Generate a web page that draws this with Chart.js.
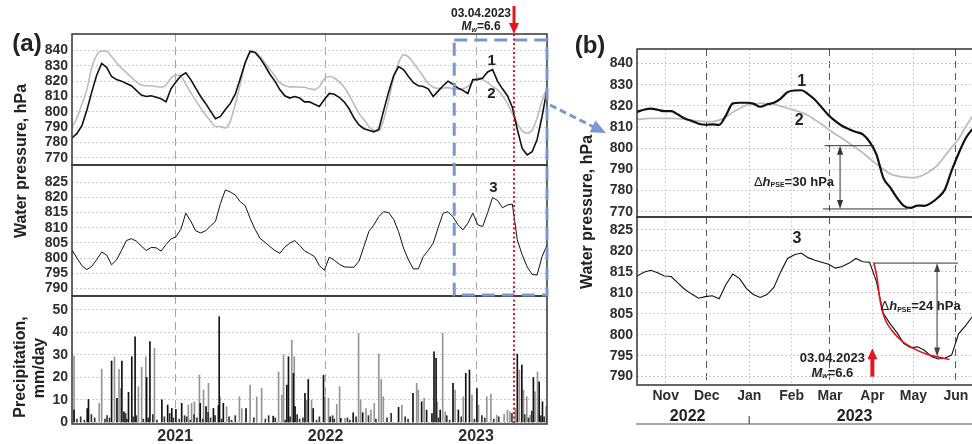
<!DOCTYPE html>
<html>
<head>
<meta charset="utf-8">
<script src="https://cdn.jsdelivr.net/npm/chart.js@4.4.1/dist/chart.umd.min.js"></script>
<style>
  html, body { margin: 0; padding: 0; background: #fff; }
  #wrap { position: relative; width: 972px; height: 444px; overflow: hidden; }
  #wrap canvas { position: absolute; }
</style>
</head>
<body>
<div id="wrap">
  <canvas id="a1"></canvas>
  <canvas id="a2"></canvas>
  <canvas id="a3"></canvas>
  <canvas id="b1"></canvas>
  <canvas id="b2"></canvas>
  <canvas id="overlay" width="972" height="444" style="left:0;top:0"></canvas>
</div>
<script>
// x values are days counted from 2020-01-01

// ---- panel (a): sampled every 12 days from day 116 ----
const A_START = 116;
const A_STEP = 12;
const SERIES1_A = [783, 786, 791, 801, 813, 824, 831.5, 829, 823, 821,
  820, 818.5, 817, 814, 811, 810, 810.5, 809.5, 808.5, 806.5,
  815, 819.5, 823.5, 825.5, 821, 815.5, 810, 805.5, 800.5, 795.5,
  797, 801.5, 805.5, 811.5, 821.5, 832, 839.5, 838.7, 835, 830,
  824.5, 820, 814.5, 810.5, 809, 810, 809, 806.5, 806.5, 805,
  803.5, 808, 812, 811.5, 809.5, 806.5, 802, 796, 791.5, 789,
  788, 787, 788.5, 801, 813, 823.5, 829.5, 827.5, 823, 819,
  817, 816.5, 815, 810, 813.5, 817, 820, 818, 815.5, 814,
  812, 821, 821, 822, 826, 827.5, 820, 815, 810.5, 803,
  788.5, 776, 772, 774, 782, 797, 814.5];
const SERIES2_A = [790, 796, 805, 814.5, 829, 837, 839.7, 839.4, 836, 832,
  828.5, 825.5, 822.5, 819.5, 817.5, 817, 817, 816.5, 816, 817.5,
  822, 824, 823.3, 818, 812.5, 807.5, 802.5, 798, 794, 790.5,
  790.5, 789.5, 794, 805, 818, 832, 838.5, 839, 836, 832,
  827.5, 823.5, 819, 817, 816.3, 816.3, 816, 816, 815, 814.5,
  816.5, 821.5, 823, 822, 819.5, 816, 811, 805, 799, 795,
  790.5, 788, 787.5, 795, 807.5, 822, 832, 837.3, 835.8, 831.8,
  827.5, 823, 818.5, 816, 815.3, 815.5, 815.8, 815, 814.7, 815,
  816.5, 819.5, 822.3, 821, 819, 816.5, 814.3, 810.5, 805.5, 799,
  792.5, 787.5, 786.2, 788, 796, 807, 816];
const SERIES3_A = [802.7, 800, 797.5, 796.2, 797.3, 799.5, 802, 801, 797.8, 799.4,
  802.5, 805.8, 806.4, 805.6, 804, 802.5, 803.5, 803.4, 802.3, 804.5,
  806.3, 807, 809.5, 814.8, 812.2, 809, 808.3, 809, 810.6, 812.1,
  818, 822.5, 821.8, 820.8, 818.6, 817.3, 813.1, 809.5, 806.5, 805.2,
  803.8, 802.5, 801.6, 803.6, 804.9, 805.8, 804.2, 802.4, 801.5, 800.5,
  797.5, 796, 800.3, 799.3, 798, 797.1, 797, 797, 799, 803.8,
  808.8, 810.9, 813.7, 815.3, 815, 812.8, 808.7, 803.3, 799.4, 796.4,
  796.5, 800.5, 802.6, 804.9, 810, 814.8, 815.3, 813.6, 811, 809.3,
  811.5, 814.8, 811, 810.4, 815, 820, 819, 816.6, 817.5, 817.8,
  806, 801, 797.1, 794.6, 794.4, 800.5, 804.3];

// precipitation, mm/day
const PRECIP_BLACK_DAY = [121, 153, 156, 212, 225, 237, 242, 253, 261, 269,
  297, 305, 334, 348, 358, 368, 382, 427, 441, 459,
  471, 473, 483, 538, 604, 637, 641, 653, 657, 681,
  689, 701, 726, 742, 768, 798, 821, 908, 943, 964,
  976, 989, 994, 999, 1009, 1040, 1053, 1071, 1080, 1098,
  1196, 1207, 1235, 1249, 1257];
const PRECIP_BLACK_MM = [5.5, 6.2, 10.2, 27.3, 10.7, 27.3, 4.7, 13.4, 29.2, 38.1,
  20, 35.9, 10, 7.7, 6.2, 5.8, 8.5, 8.5, 7, 6.2,
  7.4, 47, 8.5, 6.2, 2.8, 16.6, 29.2, 21.8, 7, 12.9,
  19.1, 6.2, 21, 2.5, 1.8, 4.3, 4.3, 6.7, 12.9, 9.2,
  5.5, 3.9, 31.4, 28.5, 5.5, 17.4, 5.5, 21.8, 23.3, 15.1,
  30.4, 25.5, 20, 18, 9.2];
const PRECIP_GRAY_DAY = [121, 182, 188, 219, 230, 234, 277, 285, 295, 316,
  398, 406, 413, 425, 435, 447, 475, 491, 522, 528,
  548, 564, 576, 617, 625, 629, 649, 655, 685, 697,
  730, 738, 758, 765, 778, 811, 816, 829, 841, 849,
  860, 866, 871, 916, 952, 956, 970, 1002, 1015, 1021,
  1045, 1065, 1086, 1102, 1122, 1132, 1146, 1164, 1172, 1178,
  1191, 1201, 1211, 1219, 1227, 1239, 1245, 1266];
const PRECIP_GRAY_MM = [29.5, 8.5, 23.6, 29.2, 23.6, 15, 15.9, 24.5, 29.2, 33,
  7.7, 8.5, 9.2, 21, 14.4, 17.4, 11.4, 7, 11.4, 6.2,
  16.6, 11.4, 15.1, 22.5, 12.2, 30, 36.6, 29.2, 10, 10,
  11.4, 10.7, 8.1, 15.9, 1.8, 39.6, 10, 6.2, 5.5, 8.5,
  30.4, 19.1, 11.4, 7.7, 17.4, 14.4, 10.7, 9.2, 39.6, 4.7,
  14.4, 11.4, 12.2, 7.7, 11.4, 12.6, 3.2, 3.7, 5.5, 4.7,
  6.2, 23.3, 14.4, 11.4, 3.2, 13.6, 22.5, 7];
const PRECIP_SMALL_DAY = [128, 137, 146, 163, 171, 196, 201, 207, 246, 249,
  265, 272, 289, 301, 312, 322, 340, 353, 362, 376,
  389, 394, 403, 412, 419, 433, 446, 452, 463, 479,
  497, 503, 512, 557, 585, 593, 609, 633, 645, 662,
  668, 676, 709, 716, 748, 752, 784, 790, 805, 835,
  853, 880, 890, 924, 931, 1005, 1025, 1032, 1060, 1092,
  1110, 1117, 1139, 1151, 1183, 1214, 1223, 1231, 1253, 1261];
const PRECIP_SMALL_MM = [1.5, 2.5, 1, 3.5, 2, 1.5, 3, 2, 4, 1.5,
  2.5, 3, 1.5, 2, 3.5, 1, 2.5, 4, 2, 1.5,
  3, 2.5, 1, 3.5, 2, 1.5, 4.5, 2, 3, 1.5,
  2.5, 1, 3, 2, 1.5, 3, 2, 1, 2.5, 3.5,
  1.5, 2, 1, 2.5, 3, 1.5, 2, 1, 2.5, 3,
  1.5, 2, 4, 2.5, 1.5, 2, 3, 1, 2.5, 1.5,
  3, 2, 1.5, 2.5, 4, 3.5, 2, 5, 3, 2.5];

// ---- panel (b): sampled every 5 days from day 1014 ----
const B_START = 1014;
const B_STEP = 5;
const SERIES1_B = [817.2, 818.2, 818.7, 818.2, 817.5, 817.5, 815.9, 814, 812.9, 811.6,
  811.1, 811.3, 811, 815.5, 821.2, 821.5, 821.5, 821.1, 819.6, 820.7,
  821.5, 823.5, 826.5, 827.3, 827.4, 825.6, 822.9, 819.3, 815.6, 812.8,
  810.5, 809, 807.7, 806.6, 803, 797, 786, 781.5, 776.6, 772.8,
  771.8, 772.9, 772.8, 774.2, 776.7, 780.5, 789.5, 797.5, 804.5, 809];
const SERIES2_B = [813.6, 813.9, 814.1, 814.1, 814.1, 814.1, 814, 813.7, 813.3, 812.8,
  812.6, 812.6, 813.3, 814.8, 817, 818.8, 820.4, 820.8, 821.2, 821.1,
  820.8, 819.9, 818.9, 818, 816.9, 815.5, 813.4, 811.3, 808.9, 806.6,
  804.6, 802.4, 800.2, 797.8, 795.1, 792.5, 790.1, 787.9, 786.9, 786.3,
  786.1, 786.4, 787.6, 789.6, 792.3, 796.4, 800.4, 804.4, 809.9, 815];
const SERIES3_B = [814, 814.9, 815.4, 814.8, 814, 813.9, 812.3, 810.8, 809.7, 808.7,
  809.1, 809.3, 808.6, 812, 814.5, 813.4, 811, 809.6, 808.9, 809.6,
  811.3, 815, 818.2, 819.1, 819.5, 818.4, 817.8, 817.3, 816.8, 815.9,
  816.3, 817.1, 818.2, 817.4, 817.3, 812.6, 805.1, 802.6, 800.5, 797.9,
  796.9, 797.1, 796.3, 794.8, 794.2, 794.4, 795.2, 800.2, 802.1, 804.3];
const FIT_DAYS = [1187, 1189.3, 1191.2, 1193.1, 1196.1, 1201, 1208.3, 1215.6, 1225.3, 1235, 1242.3];
const FIT_VALUES = [817.2, 813.8, 809.1, 805.9, 803.1, 800.7, 798.3, 796.8, 795.4, 794.6, 794.1];

// ---- ticks ----
const YEAR_DAYS = [366, 731, 1096];
const YEAR_LABELS = ['2021', '2022', '2023'];
const MONTH_DAYS = [1035, 1065, 1096, 1127, 1155, 1186, 1216, 1247];
const MONTH_LABELS = ['Nov', 'Dec', 'Jan', 'Feb', 'Mar', 'Apr', 'May', 'Jun'];
const SEASON_DAYS = [1065, 1155, 1247];
const TICKS_P1 = [770, 780, 790, 800, 810, 820, 830, 840];
const TICKS_P3 = [790, 795, 800, 805, 810, 815, 820, 825];
const TICKS_RAIN = [0, 10, 20, 30, 40, 50];
const QUAKE_DAY = 1188;

// plot rectangles on the page
const P = {
  a1: { x0: 0, left: 72, right: 547, top: 34, bottom: 165, xh: 0 },
  a2: { x0: 0, left: 72, right: 547, top: 165, bottom: 296, xh: 0 },
  a3: { x0: 0, left: 72, right: 547, top: 296, bottom: 424, xh: 20 },
  b1: { x0: 560, left: 637, right: 975, top: 49, bottom: 217, xh: 0 },
  b2: { x0: 560, left: 637, right: 975, top: 217, bottom: 385, xh: 59 }
};

const FONT = '"Liberation Sans", Arial, sans-serif';
Chart.defaults.font.family = FONT;
Chart.defaults.color = '#2e2e2e';

const framePlugin = {
  id: 'frame',
  afterDraw(chart) {
    const { ctx, chartArea: a } = chart;
    ctx.save();
    ctx.strokeStyle = '#333';
    ctx.lineWidth = 1.5;
    ctx.strokeRect(a.left, a.top, a.right - a.left, a.bottom - a.top);
    ctx.restore();
  }
};

const pts = (days, vals) => vals.map((v, i) => ({ x: days[i], y: v }));
const daysA = SERIES1_A.map((_, i) => A_START + i * A_STEP);
const daysB = SERIES1_B.map((_, i) => B_START + i * B_STEP);

function yAxis(min, max, ticks, p) {
  const w = p.left - p.x0;
  return {
    type: 'linear', min, max,
    afterBuildTicks: s => { s.ticks = ticks.map(v => ({ value: v })); },
    afterFit: s => { s.width = w; s.paddingTop = 0; s.paddingBottom = 0; },
    grid: { color: '#cdcdcd', lineWidth: 1, drawTicks: false },
    border: { display: false, dash: [2, 2] },
    ticks: { autoSkip: false, padding: 4, font: { size: 14, weight: 'bold' } }
  };
}

function xAxisA(p, showLabels) {
  return {
    type: 'linear', min: 116, max: 1268, offset: false,
    afterBuildTicks: s => { s.ticks = YEAR_DAYS.map(v => ({ value: v })); },
    afterFit: s => { s.height = p.xh; s.paddingLeft = 0; s.paddingRight = 0; },
    grid: { color: '#a4a4a4', lineWidth: 1, drawTicks: false, offset: false },
    border: { display: false, dash: [8, 5] },
    ticks: {
      display: showLabels, autoSkip: false, maxRotation: 0, padding: 3,
      font: { size: 16, weight: 'bold' },
      callback: (v, i) => YEAR_LABELS[i]
    }
  };
}

function xAxisB(p, showLabels) {
  return {
    type: 'linear', min: 1014, max: 1261, offset: false,
    afterBuildTicks: s => { s.ticks = MONTH_DAYS.map(v => ({ value: v })); },
    afterFit: s => { s.height = p.xh; s.paddingLeft = 0; s.paddingRight = 0; },
    grid: {
      drawTicks: false, lineWidth: 1,
      color: c => SEASON_DAYS.includes(c.tick && c.tick.value) ? '#555' : '#d2d2d2'
    },
    border: {
      display: false,
      dash: c => SEASON_DAYS.includes(c.tick && c.tick.value) ? [7, 5] : [2, 2]
    },
    ticks: {
      display: showLabels, autoSkip: false, maxRotation: 0, padding: 3,
      font: { size: 14, weight: 'bold' },
      callback: (v, i) => MONTH_LABELS[i]
    }
  };
}

function makeChart(id, type, datasets, scales) {
  const p = P[id];
  const PAD = 10;
  const bottomPad = p.xh ? 0 : PAD;
  const c = document.getElementById(id);
  c.width = p.right - p.x0 + 2;
  c.height = (p.bottom - p.top) + p.xh + PAD + bottomPad;
  c.style.left = p.x0 + 'px';
  c.style.top = (p.top - PAD) + 'px';
  p.cx = p.x0;
  p.cy = p.top - PAD;
  return new Chart(c, {
    type,
    data: { datasets },
    options: {
      responsive: false,
      animation: false,
      events: [],
      layout: { autoPadding: false, padding: { left: 0, right: 2, top: PAD, bottom: bottomPad } },
      elements: { point: { radius: 0 }, line: { tension: 0 } },
      plugins: { legend: { display: false }, tooltip: { enabled: false } },
      scales
    },
    plugins: [framePlugin]
  });
}

const charts = {};

charts.a1 = makeChart('a1', 'line', [
  { data: pts(daysA, SERIES1_A), borderColor: '#111', borderWidth: 1.6 },
  { data: pts(daysA, SERIES2_A), borderColor: '#bcbcbc', borderWidth: 1.6, cubicInterpolationMode: 'monotone' }
], { x: xAxisA(P.a1, false), y: yAxis(765.4, 850.7, TICKS_P1, P.a1) });

charts.a2 = makeChart('a2', 'line', [
  { data: pts(daysA, SERIES3_A), borderColor: '#111', borderWidth: 1 }
], { x: xAxisA(P.a2, false), y: yAxis(787.5, 830.7, TICKS_P3, P.a2) });

charts.a3 = makeChart('a3', 'bar', [
  { data: pts(PRECIP_BLACK_DAY, PRECIP_BLACK_MM), backgroundColor: '#111', barThickness: 1, grouped: false },
  { data: pts(PRECIP_SMALL_DAY, PRECIP_SMALL_MM), backgroundColor: '#333', barThickness: 1, grouped: false },
  { data: pts(PRECIP_GRAY_DAY, PRECIP_GRAY_MM), backgroundColor: '#959595', barThickness: 1, grouped: false }
], { x: xAxisA(P.a3, true), y: yAxis(-0.7, 56.2, TICKS_RAIN, P.a3) });

charts.b1 = makeChart('b1', 'line', [
  { data: pts(daysB, SERIES1_B), borderColor: '#111', borderWidth: 2.2, cubicInterpolationMode: 'monotone' },
  { data: pts(daysB, SERIES2_B), borderColor: '#bdbdbd', borderWidth: 1.8, cubicInterpolationMode: 'monotone' }
], { x: xAxisB(P.b1, false), y: yAxis(767.5, 846.9, TICKS_P1, P.b1) });

charts.b2 = makeChart('b2', 'line', [
  { data: pts(FIT_DAYS, FIT_VALUES), borderColor: '#e0141c', borderWidth: 1.6, cubicInterpolationMode: 'monotone' },
  { data: pts(daysB, SERIES3_B), borderColor: '#111', borderWidth: 1.1 }
], { x: xAxisB(P.b2, true), y: yAxis(788.0, 828.1, TICKS_P3, P.b2) });

// ---- annotations on a page-wide overlay ----
const ov = document.getElementById('overlay').getContext('2d');
const X = (id, d) => P[id].cx + charts[id].scales.x.getPixelForValue(d);
const Y = (id, v) => P[id].cy + charts[id].scales.y.getPixelForValue(v);
const f = (size, style) => `${style || 'bold'} ${size}px ${FONT}`;
const RED = '#e3161f';
const BLUE = '#7898d2';

function rich(parts, x, y, align, color) {
  let w = 0;
  parts.forEach(p => { ov.font = p.font; w += ov.measureText(p.t).width; });
  let cx = align === 'center' ? x - w / 2 : align === 'right' ? x - w : x;
  ov.fillStyle = color || '#222';
  ov.textAlign = 'left';
  ov.textBaseline = 'middle';
  parts.forEach(p => {
    ov.font = p.font;
    ov.fillText(p.t, cx, y + (p.dy || 0));
    cx += ov.measureText(p.t).width;
  });
}

function seg(x1, y1, x2, y2, color, width, dash) {
  ov.save();
  ov.strokeStyle = color;
  ov.lineWidth = width;
  ov.setLineDash(dash || []);
  ov.beginPath();
  ov.moveTo(x1, y1);
  ov.lineTo(x2, y2);
  ov.stroke();
  ov.restore();
}

function head(x, y, ang, len, wid, color) {
  ov.save();
  ov.translate(x, y);
  ov.rotate(ang);
  ov.beginPath();
  ov.moveTo(0, 0);
  ov.lineTo(-len, -wid / 2);
  ov.lineTo(-len, wid / 2);
  ov.closePath();
  ov.fillStyle = color;
  ov.fill();
  ov.restore();
}

function vtext(t, x, y, size) {
  ov.save();
  ov.translate(x, y);
  ov.rotate(-Math.PI / 2);
  ov.font = f(size);
  ov.fillStyle = '#222';
  ov.textAlign = 'center';
  ov.textBaseline = 'middle';
  ov.fillText(t, 0, 0);
  ov.restore();
}

function label(t, x, y, size) {
  ov.font = f(size);
  ov.fillStyle = '#222';
  ov.textAlign = 'center';
  ov.textBaseline = 'middle';
  ov.fillText(t, x, y);
}

const dhParts = v => [
  { t: '\u0394', font: f(13, 'normal') },
  { t: 'h', font: f(13, 'italic bold') },
  { t: 'PSE', font: f(7), dy: 3 },
  { t: '=' + v + ' hPa', font: f(13) }
];
const mwParts = [
  { t: 'M', font: f(12, 'italic bold') },
  { t: 'w', font: f(7, 'italic bold'), dy: 3 },
  { t: '=6.6', font: f(12) }
];

// panel letters and axis titles
label('(a)', 27, 44, 24);
label('(b)', 590, 46, 24);
vtext('Water pressure, hPa', 22, 161, 16);
vtext('Precipitation,', 21, 367, 16);
vtext('mm/day', 40, 368, 16);
vtext('Water pressure, hPa', 588, 212, 16);

// blue zoom box and arrow
const bx1 = X('a1', 1043), bx2 = X('a1', 1268);
const by1 = Y('a1', 846.8), by2 = Y('a2', 787.8);
ov.save();
ov.strokeStyle = BLUE;
ov.lineWidth = 3;
ov.setLineDash([13, 7]);
ov.strokeRect(bx1, by1, bx2 - bx1, by2 - by1);
ov.restore();
const ex = P.b1.left - 31, ey = Y('b1', 810) + 6;
seg(bx2 + 3, 105, ex - 10, ey - 5, BLUE, 3, [7, 4]);
head(ex, ey, Math.atan2(ey - 105, ex - bx2 - 3), 15, 13, BLUE);

// earthquake marker in (a)
const qx = X('a1', QUAKE_DAY);
seg(qx, Y('a1', 850.7), qx, Y('a3', -0.7), RED, 2, [2, 2.5]);
seg(qx, 6, qx, 24, RED, 3);
head(qx, 34, Math.PI / 2, 11, 10, RED);
rich([{ t: '03.04.2023', font: f(12) }], qx - 33, 14, 'center');
rich(mwParts, qx - 33, 27, 'center');

// curve numbers
label('1', X('a1', 1134), Y('a1', 833.2), 15);
label('2', X('a1', 1133), Y('a1', 811.7), 15);
label('3', X('a2', 1138), Y('a2', 823.1), 15);
label('1', X('b1', 1134.4), Y('b1', 831.7), 16);
label('2', X('b1', 1132.5), Y('b1', 813), 16);
label('3', X('b2', 1130.8), Y('b2', 822.9), 16);

// drop of curve 1 in (b)
const u1 = Y('b1', 801.2), u2 = Y('b1', 771.3), ux = X('b1', 1162.4);
seg(X('b1', 1151), u1, X('b1', 1187.5), u1, '#333', 1);
seg(X('b1', 1149.8), u2, X('b1', 1211.9), u2, '#333', 1);
seg(ux, u1 + 6, ux, u2 - 6, '#333', 1);
head(ux, u1, -Math.PI / 2, 9, 6, '#333');
head(ux, u2, Math.PI / 2, 9, 6, '#333');
rich(dhParts(30), ux - 6, Y('b1', 784), 'right');

// drop of curve 3 in (b)
const l1 = Y('b2', 817.1), l2 = Y('b2', 794.8), lx = X('b2', 1233.3);
seg(X('b2', 1187.1), l1, X('b2', 1248.5), l1, '#333', 1);
seg(lx, l1 + 6, lx, l2 - 6, '#555', 1.2);
head(lx, l1, -Math.PI / 2, 9, 6, '#444');
head(lx, l2, Math.PI / 2, 9, 6, '#444');
rich(dhParts(24), X('b2', 1192), Y('b2', 806.7), 'left');

// earthquake marker in (b)
const rx = X('b2', 1186);
seg(rx, Y('b2', 790), rx, Y('b2', 795), RED, 4);
head(rx, Y('b2', 796.8), -Math.PI / 2, 11, 10, RED);
rich([{ t: '03.04.2023', font: f(13) }], rx - 40, Y('b2', 794.4), 'center');
rich(mwParts.map(p => ({ ...p, font: p.font.replace('12px', '13px') })), rx - 40, Y('b2', 790.8), 'center');

// year band under (b)
seg(P.b2.left - 1, 424, 972, 424, '#555', 1.2);
seg(X('b2', 1096), 416, X('b2', 1096), 424, '#555', 1.2);
label('2022', X('b2', 1051), 417, 16);
label('2023', X('b2', 1173), 417, 16);
</script>
</body>
</html>
